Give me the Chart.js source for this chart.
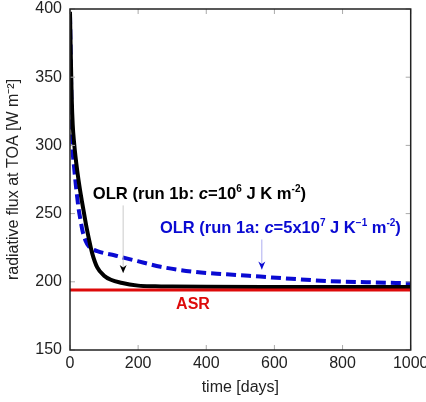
<!DOCTYPE html>
<html>
<head>
<meta charset="utf-8">
<script src="https://cdn.jsdelivr.net/npm/chart.js@4.4.1/dist/chart.umd.min.js"></script>
<style>
  html, body { margin: 0; padding: 0; background: #fff; overflow: hidden; }
</style>
</head>
<body>
<canvas id="chart" width="426" height="402"></canvas>
<script>
// axis ticks
const xTicks = [0, 200, 400, 600, 800, 1000];
const yTicks = [150, 200, 250, 300, 350, 400];

// run 1b (c = 1e6), black solid
const days1b = [0, 2, 5, 8, 12, 16, 22, 29, 35, 42, 50, 55, 65, 80, 100, 120, 150, 200, 250, 300, 400, 600, 800, 1000];
const olr1b  = [398, 370, 335, 315, 302, 292, 280, 268, 259, 249, 238, 232, 221, 210.5, 204.5, 201.5, 199.3, 197.2, 196.7, 196.5, 196.3, 196.2, 196.2, 196.2];

// run 1a (c = 5e7), blue dashed
const days1a = [0, 3, 6, 8, 12, 18, 25, 31, 37, 46, 55, 65, 80, 100, 130, 160, 217, 266, 362, 460, 558, 650, 753, 870, 1000];
const olr1a  = [396, 350, 312, 296, 284, 269, 254, 245, 237, 230, 226, 224, 222.5, 221, 219.5, 217.5, 214, 211, 207.4, 205.5, 203.8, 202.2, 200.6, 199.7, 198.9];

// absorbed shortwave
const asrDays = [0, 1000];
const asr = [194, 194];

const pts = (xs, ys) => xs.map((d, i) => ({ x: d, y: ys[i] }));

const BLUE = '#0a0ad2';
const RED = '#dd0a0a';
const FONT = '"Liberation Sans", Arial, Helvetica, sans-serif';

// rich text: segments [text, kind] kind: '' normal, 'i' italic, 's' superscript
function drawRich(ctx, segs, x, y, color, size) {
  let cx = x;
  ctx.fillStyle = color;
  ctx.textBaseline = 'middle';
  ctx.textAlign = 'left';
  segs.forEach(([t, k]) => {
    let f = 'bold ' + size + 'px ' + FONT;
    let dy = 0;
    if (k === 'i') f = 'italic bold ' + size + 'px ' + FONT;
    if (k === 's') { f = 'bold ' + Math.round(size * 0.6) + 'px ' + FONT; dy = -size * 0.32; }
    ctx.font = f;
    ctx.fillText(t, cx, y + dy);
    cx += ctx.measureText(t).width;
  });
}

function arrow(ctx, x, y0, y1, lineColor, headColor) {
  ctx.strokeStyle = lineColor;
  ctx.lineWidth = 0.8;
  ctx.beginPath(); ctx.moveTo(x, y0); ctx.lineTo(x, y1); ctx.stroke();
  ctx.fillStyle = headColor;
  ctx.beginPath();
  ctx.moveTo(x, y1);
  ctx.lineTo(x - 3.5, y1 - 8);
  ctx.lineTo(x, y1 - 5.5);
  ctx.lineTo(x + 3.5, y1 - 8);
  ctx.closePath();
  ctx.fill();
}

const framePlugin = {
  id: 'frame',
  afterDatasetsDraw(chart) {
    const { ctx, chartArea: a, scales: { x, y } } = chart;
    ctx.save();
    ctx.strokeStyle = '#aaaaaa';
    ctx.lineWidth = 1;
    ctx.beginPath();
    xTicks.forEach(v => {
      const px = x.getPixelForValue(v);
      ctx.moveTo(px, a.bottom); ctx.lineTo(px, a.bottom - 5);
      ctx.moveTo(px, a.top); ctx.lineTo(px, a.top + 5);
    });
    yTicks.forEach(v => {
      const py = y.getPixelForValue(v);
      ctx.moveTo(a.left, py); ctx.lineTo(a.left + 5, py);
      ctx.moveTo(a.right, py); ctx.lineTo(a.right - 5, py);
    });
    ctx.stroke();
    ctx.strokeStyle = '#222';
    ctx.lineWidth = 1.5;
    ctx.strokeRect(a.left, a.top, a.right - a.left, a.bottom - a.top);

    // annotations
    drawRich(ctx, [['OLR (run 1b: ', ''], ['c', 'i'], ['=10', ''], ['6', 's'], [' J K m', ''], ['-2', 's'], [')', '']],
      x.getPixelForValue(67), y.getPixelForValue(264), '#000', 16.6);
    drawRich(ctx, [['OLR (run 1a: ', ''], ['c', 'i'], ['=5x10', ''], ['7', 's'], [' J K', ''], ['\u22121', 's'], [' m', ''], ['-2', 's'], [')', '']],
      x.getPixelForValue(264), y.getPixelForValue(239), BLUE, 16.5);
    ctx.font = 'bold 16px ' + FONT;
    ctx.textAlign = 'center';
    ctx.fillStyle = RED;
    ctx.fillText('ASR', x.getPixelForValue(361), y.getPixelForValue(183.4));

    arrow(ctx, x.getPixelForValue(156), y.getPixelForValue(256), y.getPixelForValue(206.5), '#bbbbbb', '#000');
    arrow(ctx, x.getPixelForValue(563), y.getPixelForValue(231), y.getPixelForValue(209), '#9999ee', BLUE);
    ctx.restore();
  }
};

new Chart(document.getElementById('chart'), {
  type: 'line',
  data: {
    datasets: [
      { label: 'ASR', data: pts(asrDays, asr), borderColor: RED, borderWidth: 3, pointRadius: 0 },
      { label: 'OLR run 1b', data: pts(days1b, olr1b), borderColor: '#000', borderWidth: 4, pointRadius: 0, cubicInterpolationMode: 'monotone' },
      { label: 'OLR run 1a', data: pts(days1a, olr1a), borderColor: BLUE, borderWidth: 4, borderDash: [10, 5], pointRadius: 0, cubicInterpolationMode: 'monotone' }
    ]
  },
  options: {
    responsive: false,
    animation: false,
    layout: { padding: { left: 0, top: 9, right: 15.3, bottom: 0 } },
    plugins: { legend: { display: false }, tooltip: { enabled: false } },
    scales: {
      x: {
        type: 'linear', min: 0, max: 1000,
        grid: { display: false, drawTicks: false },
        border: { display: false },
        ticks: { stepSize: 200, padding: 4, color: '#222', font: { family: FONT, size: 16 }, callback: v => String(v) },
        title: { display: true, text: 'time [days]', color: '#222', padding: { top: 4, bottom: 5 }, font: { family: FONT, size: 16 } },
        afterFit(s) { s.height = 52; s.paddingLeft = 0; s.paddingRight = 0; }
      },
      y: {
        min: 150, max: 400,
        grid: { display: false, drawTicks: false },
        border: { display: false },
        ticks: { stepSize: 50, padding: 8, color: '#222', font: { family: FONT, size: 16 }, callback: v => String(v) },
        title: { display: true, text: 'radiative flux at TOA [W m\u207B\u00B2]', color: '#222', padding: { top: 4, bottom: 4 }, font: { family: FONT, size: 16 } },
        afterFit(s) { s.width = 70; s.paddingTop = 0; s.paddingBottom = 0; }
      }
    }
  },
  plugins: [framePlugin]
});
</script>
</body>
</html>
